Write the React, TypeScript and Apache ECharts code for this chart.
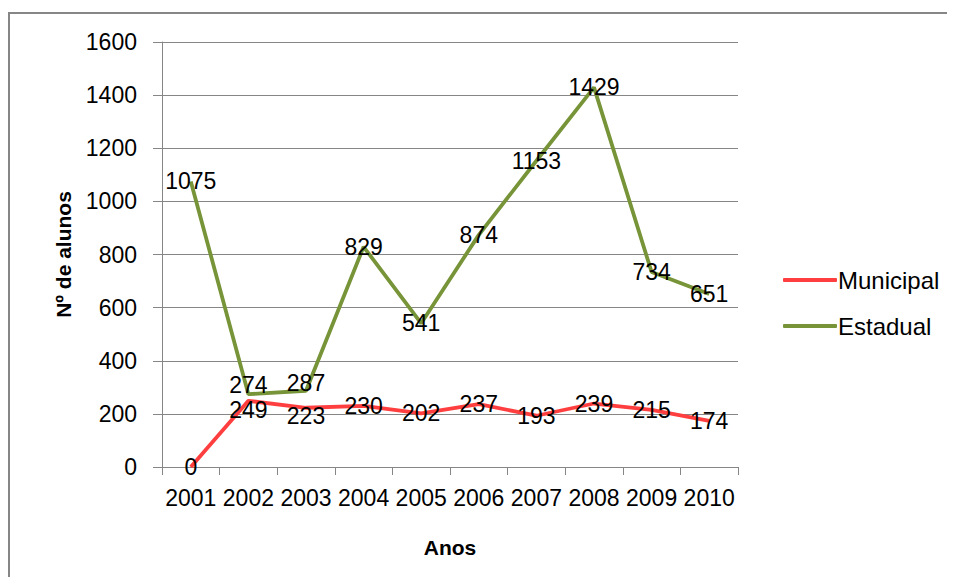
import React, { useEffect, useRef } from "react";
import * as echarts from "echarts";

const years = ["2001", "2002", "2003", "2004", "2005", "2006", "2007", "2008", "2009", "2010"];
const municipal = [0, 249, 223, 230, 202, 237, 193, 239, 215, 174];
const estadual = [1075, 274, 287, 829, 541, 874, 1153, 1429, 734, 651];
const seriesNames = ["Municipal", "Estadual"];

const FONT = "'Liberation Sans', Arial, sans-serif";

// Vertical nudges for the labels of the two crowded years (2002, 2003),
// keyed by data index: Municipal goes down, Estadual goes up.
const municipalNudge: Record<number, number> = { 1: 9, 2: 8 };
const estadualNudge: Record<number, number> = { 1: -9, 2: -8 };

export default function App() {
  const ref = useRef<HTMLDivElement>(null);

  useEffect(() => {
    if (!ref.current) return;
    const chart = echarts.init(ref.current, null, { renderer: "svg" });
    const label = {
      show: true,
      position: "inside" as const,
      color: "#000",
      fontFamily: FONT,
      fontSize: 23,
    };
    const nudge = (table: Record<number, number>) => (params: any) => ({
      hideOverlap: false,
      dy: table[params.dataIndex] ?? 0,
    });
    chart.setOption({
      animation: false,
      backgroundColor: "#fff",
      textStyle: { fontFamily: FONT },
      graphic: [
        {
          type: "rect",
          shape: { x: 9, y: 13, width: 1000, height: 1000 },
          style: { fill: "none", stroke: "#868686", lineWidth: 2 },
          silent: true,
        },
      ],
      grid: { left: 162, right: 217, top: 42, bottom: 118 },
      legend: {
        orient: "vertical",
        left: 778,
        top: 263,
        itemGap: 22,
        itemWidth: 54,
        itemHeight: 4,
        icon: "roundRect",
        data: seriesNames,
        textStyle: { fontFamily: FONT, fontSize: 24, color: "#000", padding: [0, 0, 0, -4] },
      },
      xAxis: {
        type: "category",
        data: years,
        boundaryGap: true,
        name: "Anos",
        nameLocation: "middle",
        nameGap: 70,
        nameTextStyle: { fontFamily: FONT, fontSize: 21, fontWeight: "bold", color: "#000" },
        axisLine: { lineStyle: { color: "#868686", width: 1 } },
        axisTick: { show: true, length: 8, lineStyle: { color: "#868686" } },
        axisLabel: { color: "#000", fontSize: 23, fontFamily: FONT, margin: 19, interval: 0 },
      },
      yAxis: {
        type: "value",
        min: 0,
        max: 1600,
        interval: 200,
        name: "Nº de alunos",
        nameLocation: "middle",
        nameGap: 88,
        nameTextStyle: { fontFamily: FONT, fontSize: 21, fontWeight: "bold", color: "#000" },
        axisLine: { show: true, lineStyle: { color: "#868686", width: 1 } },
        axisTick: { show: true, length: 9, lineStyle: { color: "#868686" } },
        axisLabel: {
          color: "#000",
          fontSize: 23,
          fontFamily: FONT,
          margin: 25,
          formatter: (v: number) => String(v),
        },
        splitLine: { lineStyle: { color: "#868686", width: 1 } },
      },
      series: [
        {
          name: seriesNames[0],
          type: "line",
          data: municipal,
          symbol: "circle",
          symbolSize: 0,
          showSymbol: true,
          color: "#FF3F3F",
          lineStyle: { width: 3.8, color: "#FF3F3F" },
          label,
          labelLayout: nudge(municipalNudge),
          z: 3,
        },
        {
          name: seriesNames[1],
          type: "line",
          data: estadual,
          symbol: "circle",
          symbolSize: 0,
          showSymbol: true,
          color: "#779438",
          lineStyle: { width: 3.8, color: "#779438" },
          label,
          labelLayout: nudge(estadualNudge),
          z: 2,
        },
      ],
    });
    return () => chart.dispose();
  }, []);

  return <div ref={ref} style={{ width: 955, height: 585, margin: -8 }} />;
}
